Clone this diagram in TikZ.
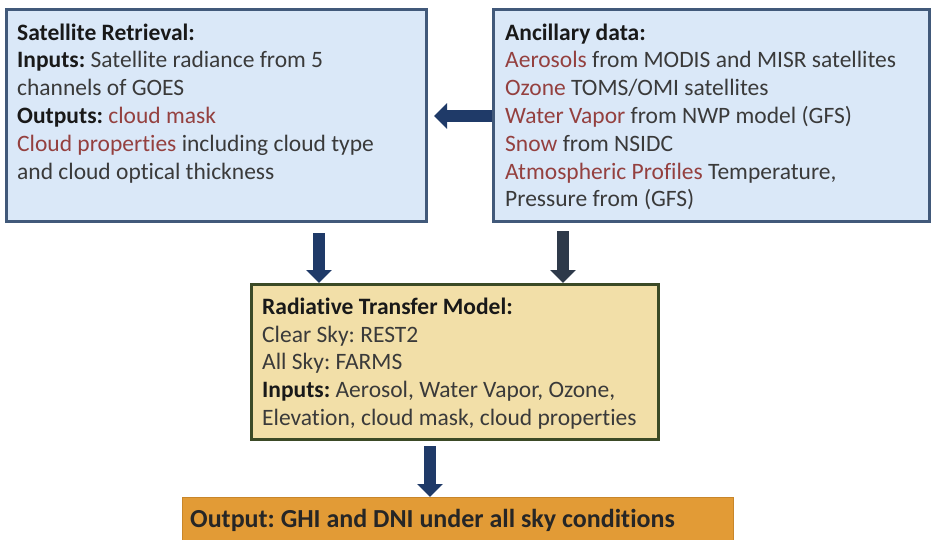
\documentclass[tikz,border=0pt]{standalone}
\usepackage{fontspec}
\setmainfont[Ligatures=NoCommon]{Carlito}
\usetikzlibrary{arrows.meta}
\definecolor{bluefill}{HTML}{DAE8F8}
\definecolor{blueline}{HTML}{41597A}
\definecolor{tanfill}{HTML}{F2DFA8}
\definecolor{oliveline}{HTML}{3B4A26}
\definecolor{orangefill}{HTML}{E29B36}
\definecolor{orangeline}{HTML}{C8862A}
\definecolor{navy}{HTML}{1F3A68}
\definecolor{slate}{HTML}{2E3A4A}
\definecolor{txt}{HTML}{3A3A3A}
\definecolor{hl}{HTML}{94403F}
\newcommand{\hlt}[1]{\textcolor{hl}{#1}}
\newcommand{\ttl}[1]{\textbf{\textcolor{black!90}{#1}}}
\tikzset{
  bluebox/.style={draw=blueline, fill=bluefill, line width=3pt, rectangle, inner sep=0pt, anchor=north west},
  tanbox/.style={draw=oliveline, fill=tanfill, line width=3pt, rectangle, inner sep=0pt, anchor=north west},
  outbox/.style={draw=orangeline, fill=orangefill, line width=1pt, rectangle, inner sep=0pt, anchor=north west},
  boxtext/.style={anchor=north west, inner sep=0pt, align=left, text=txt, font=\frenchspacing\fontsize{23.5}{27.8}\selectfont},
  bigarrow/.style={line width=12pt, -{Triangle[width=25pt,length=13pt]}}
}
\begin{document}
\begin{tikzpicture}[x=1pt,y=-1pt]
\useasboundingbox (0,0) rectangle (931,540);
\fill[white] (0,0) rectangle (931,540);
% boxes
\node[bluebox, minimum width=420pt, minimum height=212pt] (sat) at (5,8) {};
\node[bluebox, minimum width=436pt, minimum height=212pt] (anc) at (492,8) {};
\node[tanbox, minimum width=407pt, minimum height=155pt] (rtm) at (250,283) {};
\node[outbox, minimum width=551pt, minimum height=60pt] (out) at (182,497) {};
% texts
\node[boxtext] (sattext) at (17,23) {\rule{0pt}{17pt}\ttl{Satellite Retrieval:}\\
\ttl{Inputs:} Satellite radiance from 5\\
channels of GOES\\
\ttl{Outputs:} \hlt{cloud mask}\\
\hlt{Cloud properties} including cloud type\\
and cloud optical thickness};
\node[boxtext] (anctext) at (505,23) {\rule{0pt}{17pt}\ttl{Ancillary data:}\\
\hlt{Aerosols} from MODIS and MISR satellites\\
\hlt{Ozone} TOMS/OMI satellites\\
\hlt{Water Vapor} from NWP model (GFS)\\
\hlt{Snow} from NSIDC\\
\hlt{Atmospheric Profiles} Temperature,\\
Pressure from (GFS)};
\node[boxtext] (rtmtext) at (262,297) {\rule{0pt}{17pt}\ttl{Radiative Transfer Model:}\\
Clear Sky: REST2\\
All Sky: FARMS\\
\ttl{Inputs:} Aerosol, Water Vapor, Ozone,\\
Elevation, cloud mask, cloud properties};
\node[boxtext, font=\frenchspacing\fontsize{26}{30}\selectfont\bfseries, text=black!85] (outtext) at (190,509) {\rule{0pt}{18pt}Output: GHI and DNI under all sky conditions};
% arrow x positions
\coordinate (ax1) at (319,0);
\coordinate (ax2) at (563,0);
\coordinate (ax3) at (430,0);
\coordinate (ay) at (0,116);
% arrows
\draw[bigarrow, navy, shorten <=0pt, shorten >=6pt] (anc.west |- ay) -- (sat.east |- ay);
\draw[bigarrow, navy, shorten <=10pt] (sat.south -| ax1) -- (rtm.north -| ax1);
\draw[bigarrow, slate, shorten <=8pt] (anc.south -| ax2) -- (rtm.north -| ax2);
\draw[bigarrow, navy, shorten <=5pt] (rtm.south -| ax3) -- (out.north -| ax3);
\end{tikzpicture}
\end{document}
